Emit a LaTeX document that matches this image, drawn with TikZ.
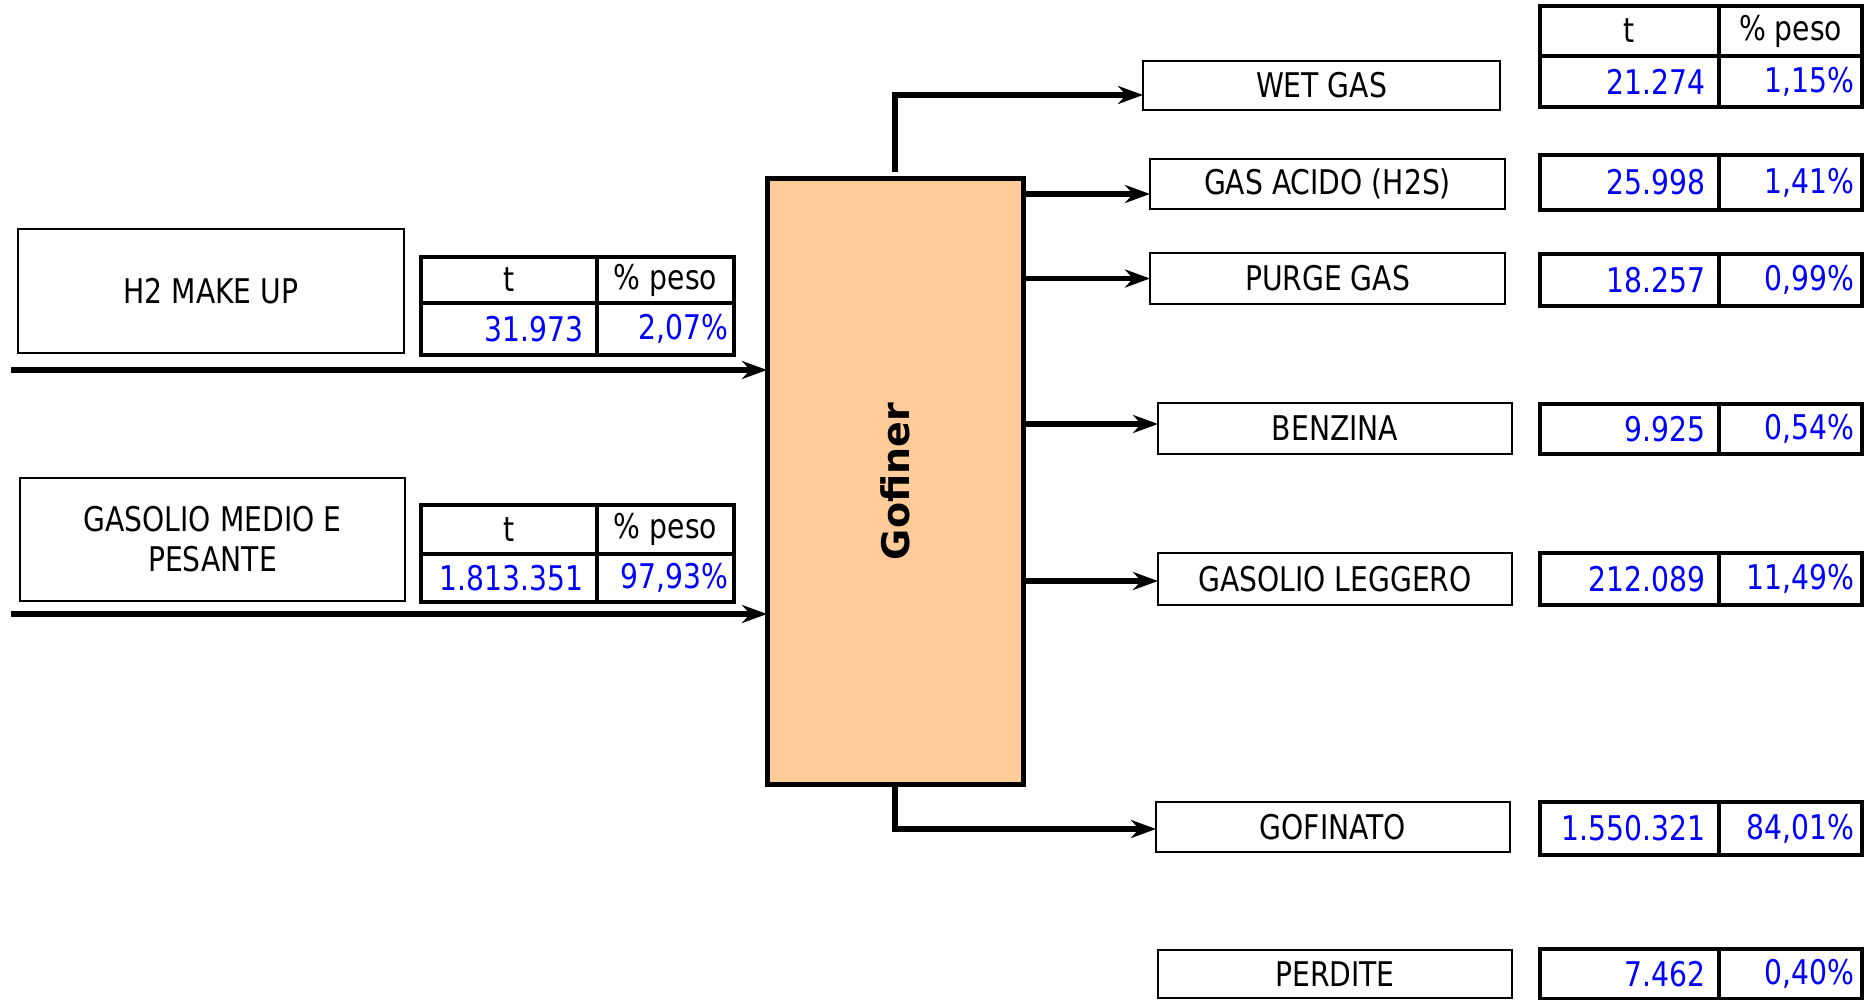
\documentclass[tikz,border=0pt]{standalone}
\usepackage{fontspec}
\setmainfont{DejaVu Sans}[FakeStretch=0.83]
\newfontfamily\gofont{DejaVu Sans}
\usepackage{tikz}
\usetikzlibrary{arrows.meta,positioning,calc}
\definecolor{gofill}{HTML}{FFCC99}
\definecolor{valblue}{HTML}{0000FF}
\newcommand\etfont{\fontsize{17}{20}\selectfont}
\tikzset{
  lbl/.style={draw, line width=0.8pt, align=center, inner sep=0pt, outer sep=0pt, font=\etfont},
  cella/.style={draw, line width=2pt, inner sep=0pt, outer sep=0pt, anchor=north west, font=\etfont},
  hcell/.style={cella, align=center},
  vcell/.style={cella, text=valblue, align=right},
  arr/.style={-{Stealth[length=12.5pt,width=9pt,inset=4pt]}, line width=2.6pt},
}

\begin{document}
\begin{tikzpicture}[x=0.5pt, y=-0.5pt,
    lh1/.style={hcell, minimum width=88pt}, lh2/.style={hcell, minimum width=68.5pt},
    lv1/.style={vcell, inner xsep=7pt, text width=74pt}, lv2/.style={vcell, inner xsep=3pt, text width=62.5pt},
    rh1/.style={hcell, minimum width=89.5pt}, rh2/.style={hcell, minimum width=71.5pt},
    rv1/.style={vcell, inner xsep=7pt, text width=75.5pt}, rv2/.style={vcell, inner xsep=4pt, text width=63.5pt}]
  \useasboundingbox (0,0) rectangle (1872,1000);
  % Gofiner unit
  \node[draw, line width=2.5pt, fill=gofill, minimum width=128pt, minimum height=302.5pt,
        inner sep=0pt, outer sep=0pt] (gof) at (895,481.5) {};
  \node[rotate=90, font={\gofont\fontsize{19}{22}\selectfont\bfseries}] (goflbl) at (gof.center) {Gofiner};

  % Feeds
  \node[lbl, minimum width=193pt, minimum height=62pt] (h2) at (211,291) {H2 MAKE UP};
  \node[lh1, minimum height=23pt] (h2t) at (421,257) {t};
  \node[lh2, minimum height=23pt] (h2p) at (597,257) {\% peso};
  \node[lv1, minimum height=26pt] (h2tv) at (421,303) {31.973};
  \node[lv2, minimum height=26pt] (h2pv) at (597,303) {2,07\%};
  \node[lbl, minimum width=192.5pt, minimum height=61.5pt] (gmp) at (212.5,539.5) {GASOLIO MEDIO E\\PESANTE};
  \node[lh1, minimum height=24.5pt] (gmpt) at (421,505) {t};
  \node[lh2, minimum height=24.5pt] (gmpp) at (597,505) {\% peso};
  \node[lv1, minimum height=24pt] (gmptv) at (421,554) {1.813.351};
  \node[lv2, minimum height=24pt] (gmppv) at (597,554) {97,93\%};

  % Products
  \node[lbl, minimum width=178.5pt, minimum height=24.5pt] (wet) at (1321.5,85.5) {WET GAS};
  \node[lbl, minimum width=177.5pt, minimum height=25pt] (acido) at (1327.5,184) {GAS ACIDO (H2S)};
  \node[lbl, minimum width=177.5pt, minimum height=25.5pt] (purge) at (1327.5,278.5) {PURGE GAS};
  \node[lbl, minimum width=177pt, minimum height=25.5pt] (benz) at (1335,428.5) {BENZINA};
  \node[lbl, minimum width=177pt, minimum height=26pt] (legg) at (1335,579) {GASOLIO LEGGERO};
  \node[lbl, minimum width=177pt, minimum height=25pt] (gofin) at (1333,827) {GOFINATO};
  \node[lbl, minimum width=177pt, minimum height=24pt] (perd) at (1335,974) {PERDITE};

  % Product tables
  \node[rh1, minimum height=25pt] (tt) at (1540,6) {t};
  \node[rh2, minimum height=25pt] (tp) at (1719,6) {\% peso};
  \node[rv1, minimum height=25.5pt] (wettv) at (1540,56) {21.274};
  \node[rv2, minimum height=25.5pt] (wetpv) at (1719,56) {1,15\%};
  \node[rv1, minimum height=27.5pt] (acidotv) at (1540,155) {25.998};
  \node[rv2, minimum height=27.5pt] (acidopv) at (1719,155) {1,41\%};
  \node[rv1, minimum height=26pt] (purgetv) at (1540,254) {18.257};
  \node[rv2, minimum height=26pt] (purgepv) at (1719,254) {0,99\%};
  \node[rv1, minimum height=25pt] (benztv) at (1540,404) {9.925};
  \node[rv2, minimum height=25pt] (benzpv) at (1719,404) {0,54\%};
  \node[rv1, minimum height=26pt] (leggtv) at (1540,553) {212.089};
  \node[rv2, minimum height=26pt] (leggpv) at (1719,553) {11,49\%};
  \node[rv1, minimum height=26.5pt] (gofintv) at (1540,802) {1.550.321};
  \node[rv2, minimum height=26.5pt] (gofinpv) at (1719,802) {84,01\%};
  \node[rv1, minimum height=25pt] (perdtv) at (1540,949) {7.462};
  \node[rv2, minimum height=25pt] (perdpv) at (1719,949) {0,40\%};

  % Streams
  \coordinate (h2in) at (11,370);
  \coordinate (gmpin) at (11,614);
  \draw[arr] (h2in) -- (h2in -| gof.west);
  \draw[arr] (gmpin) -- (gmpin -| gof.west);
  \coordinate (wetin) at ([yshift=-4.75pt]wet.west);
  \coordinate (acidoin) at ([yshift=-5pt]acido.west);
  \coordinate (benzin) at ([yshift=2.25pt]benz.west);
  \coordinate (leggin) at ([yshift=-1pt]legg.west);
  \coordinate (gofinin) at ([yshift=-1pt]gofin.west);
  \draw[arr] ([yshift=3.5pt]gof.north) |- (wetin);
  \draw[arr] (acidoin -| gof.east) -- (acidoin);
  \draw[arr] (purge.west -| gof.east) -- (purge.west);
  \draw[arr] (benzin -| gof.east) -- (benzin);
  \draw[arr] (leggin -| gof.east) -- (leggin);
  \draw[arr] ([yshift=-1.5pt]gof.south) |- (gofinin);
\end{tikzpicture}
\end{document}
